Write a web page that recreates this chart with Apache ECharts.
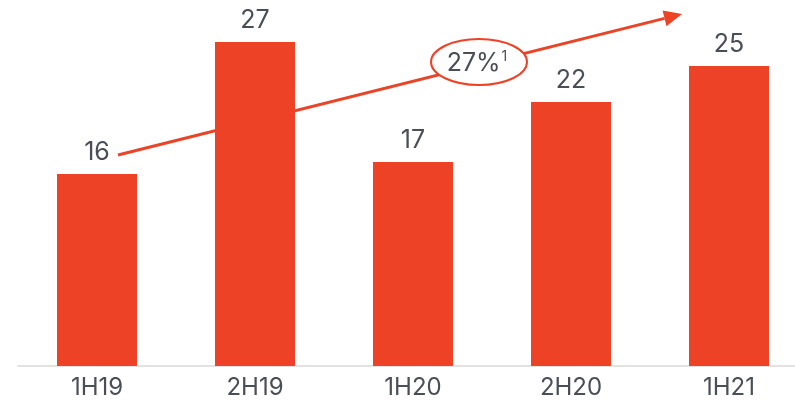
<!DOCTYPE html>
<html>
<head>
<meta charset="utf-8">
<script src="https://cdn.jsdelivr.net/npm/echarts@6/dist/echarts.min.js"></script>
<style>
  html, body { margin: 0; padding: 0; background: #fff; }
  #chart { width: 795px; height: 414px; }
</style>
</head>
<body>
<div id="chart"></div>
<script>
// data
var categories = ['1H19', '2H19', '1H20', '2H20', '1H21'];
var values = [16, 27, 17, 22, 25];
var growthValue = '27%';
var growthNote = '1';

var red = '#EE4226';
var textColor = '#4b4e56';
var font = 'Inter, Roboto, sans-serif';

var myChart = echarts.init(document.getElementById('chart'));

// arrow from first bar label towards the last bar
var x1 = 118, y1 = 155, x2 = 682, y2 = 14;
var ang = Math.atan2(y2 - y1, x2 - x1);
var headLen = 18, headW = 8;
var bx = x2 - headLen * Math.cos(ang), by = y2 - headLen * Math.sin(ang);
var head = [
  [x2, y2],
  [bx + headW * Math.sin(ang), by - headW * Math.cos(ang)],
  [bx - headW * Math.sin(ang), by + headW * Math.cos(ang)]
];

var option = {
  animation: false,
  grid: { left: 18, width: 790, top: 6, height: 360, outerBoundsMode: 'none', containLabel: false },
  xAxis: {
    type: 'category',
    data: categories,
    axisTick: { show: false },
    axisLine: { lineStyle: { color: '#e2e2e2', width: 2 } },
    axisLabel: {
      color: textColor,
      fontSize: 24,
      fontFamily: font,
      margin: 10
    }
  },
  yAxis: {
    type: 'value',
    min: 0,
    max: 30,
    show: false
  },
  series: [{
    type: 'bar',
    data: values,
    barWidth: 80,
    itemStyle: { color: red },
    label: {
      show: true,
      position: 'top',
      distance: 9,
      color: textColor,
      fontSize: 25,
      fontFamily: font
    }
  }],
  graphic: [
    {
      type: 'line',
      z: 10,
      shape: { x1: x1, y1: y1, x2: bx, y2: by },
      style: { stroke: red, lineWidth: 3 }
    },
    {
      type: 'polygon',
      z: 10,
      shape: { points: head },
      style: { fill: red }
    },
    {
      type: 'ellipse',
      z: 11,
      shape: { cx: 479, cy: 62, rx: 48, ry: 23 },
      style: { fill: '#fff', stroke: red, lineWidth: 2 }
    },
    {
      type: 'text',
      z: 12,
      x: 477,
      y: 63,
      style: {
        text: '{a|' + growthValue + '}{s|' + growthNote + '}',
        align: 'center',
        verticalAlign: 'middle',
        rich: {
          a: { fill: textColor, fontSize: 25, fontFamily: font },
          s: { fill: textColor, fontSize: 14, fontFamily: font, padding: [0, 0, 12, 1] }
        }
      }
    }
  ]
};

myChart.setOption(option);
</script>
</body>
</html>
